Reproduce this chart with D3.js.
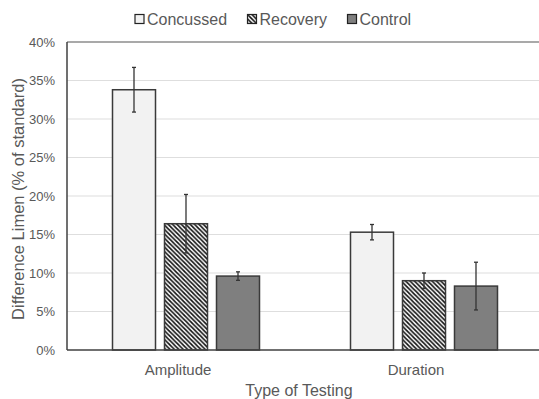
<!DOCTYPE html>
<html><head><meta charset="utf-8">
<script src="https://cdn.jsdelivr.net/npm/d3@7"></script>
<style>body{margin:0;background:#fff}svg{display:block;font-family:"Liberation Sans",Arial,sans-serif}</style>
</head><body>
<svg id="c" width="539" height="399"></svg>
<script>
const groups = ["Amplitude", "Duration"];
const series = ["Concussed", "Recovery", "Control"];
const values = {
  Concussed: [0.338, 0.153],
  Recovery:  [0.164, 0.090],
  Control:   [0.096, 0.083]
};
const errors = {
  Concussed: [0.029, 0.010],
  Recovery:  [0.038, 0.010],
  Control:   [0.0055, 0.031]
};
const yTicks = [0, 0.05, 0.10, 0.15, 0.20, 0.25, 0.30, 0.35, 0.40];

(function(){
const svg = d3.select("#c");
const pL = 67, pR = 543, pT = 42, pB = 350;
const txt = "#595959";

const defs = svg.append("defs");
const pat = defs.append("pattern").attr("id","hatch").attr("patternUnits","userSpaceOnUse")
  .attr("width",4.4).attr("height",4.4);
pat.append("rect").attr("width",4.4).attr("height",4.4).attr("fill","#fff");
pat.append("path").attr("d","M0,0L4.4,4.4M-1,3.4L1,5.4M3.4,-1L5.4,1")
  .attr("stroke","#111").attr("stroke-width",1.6);

const fills = {Concussed:"#f2f2f2", Recovery:"url(#hatch)", Control:"#7f7f7f"};

const x0 = d3.scaleBand().domain(groups).range([pL, pR]).paddingInner(0).paddingOuter(0);
const x1 = d3.scaleBand().domain(series).range([0, x0.bandwidth()]).paddingInner(9/52).paddingOuter(0.875);
const y = d3.scaleLinear().domain([0, 0.40]).range([pB, pT]);

// gridlines
svg.append("g").selectAll("line").data(yTicks.slice(1)).join("line")
  .attr("x1", pL).attr("x2", pR).attr("y1", d=>y(d)).attr("y2", d=>y(d))
  .attr("stroke", d => d===0.40 ? "#8c8c8c" : "#dedede").attr("stroke-width", d => d===0.40 ? 1.5 : 1.2);

// y axis
const yAxis = d3.axisLeft(y).tickValues(yTicks).tickFormat(d3.format(".0%")).tickSize(0).tickPadding(12);
const gy = svg.append("g").attr("transform",`translate(${pL},0)`).call(yAxis);
gy.select(".domain").remove();
gy.selectAll("text").attr("fill",txt).style("font-size","13px");

// bars
const gg = svg.append("g").selectAll("g").data(groups).join("g")
  .attr("transform", d=>`translate(${x0(d)},0)`);
series.forEach(s => {
  gg.append("rect")
    .attr("x", x1(s)).attr("width", x1.bandwidth())
    .attr("y", (d,i)=>y(values[s][i])).attr("height",(d,i)=>y(0)-y(values[s][i]))
    .attr("fill", fills[s]).attr("stroke","#3a3a3a").attr("stroke-width",1.5);
});
// error bars
series.forEach(s => {
  const cx = x1(s) + x1.bandwidth()/2;
  const eb = gg.append("g").attr("stroke","#333").attr("stroke-width",1.3);
  eb.append("line").attr("x1",cx).attr("x2",cx)
    .attr("y1",(d,i)=>y(values[s][i]+errors[s][i])).attr("y2",(d,i)=>y(values[s][i]-errors[s][i]));
  eb.append("line").attr("x1",cx-2).attr("x2",cx+2)
    .attr("y1",(d,i)=>y(values[s][i]+errors[s][i])).attr("y2",(d,i)=>y(values[s][i]+errors[s][i]));
  eb.append("line").attr("x1",cx-2).attr("x2",cx+2)
    .attr("y1",(d,i)=>y(values[s][i]-errors[s][i])).attr("y2",(d,i)=>y(values[s][i]-errors[s][i]));
});

// axes lines
svg.append("line").attr("x1",pL).attr("x2",pL).attr("y1",pT).attr("y2",pB)
  .attr("stroke","#404040").attr("stroke-width",1.5);
svg.append("line").attr("x1",pL).attr("x2",pR).attr("y1",pB).attr("y2",pB)
  .attr("stroke","#404040").attr("stroke-width",1.5);

// x axis labels
const xAxis = d3.axisBottom(x0).tickSize(0).tickPadding(14);
const gx = svg.append("g").attr("transform",`translate(0,${pB})`).call(xAxis);
gx.select(".domain").remove();
gx.selectAll("text").attr("fill",txt).style("font-size","15px").attr("dx",-8);

// axis titles
svg.append("text").attr("x",299).attr("y",396).attr("text-anchor","middle")
  .attr("fill",txt).style("font-size","16px").text("Type of Testing");
svg.append("text").attr("transform","translate(24,199) rotate(-90)").attr("text-anchor","middle")
  .attr("fill",txt).style("font-size","16.5px").text("Difference Limen (% of standard)");

// legend
const legX = [135, 247.5, 347.5];
const lg = svg.append("g").selectAll("g").data(series).join("g")
  .attr("transform",(d,i)=>`translate(${legX[i]},14.5)`);
lg.append("rect").attr("width",9).attr("height",9)
  .attr("fill",d=>fills[d]).attr("stroke","#222").attr("stroke-width",1.2);
lg.append("text").attr("x",12).attr("y",10).attr("fill",txt).style("font-size","16px").text(d=>d);
})();
</script>
</body></html>
